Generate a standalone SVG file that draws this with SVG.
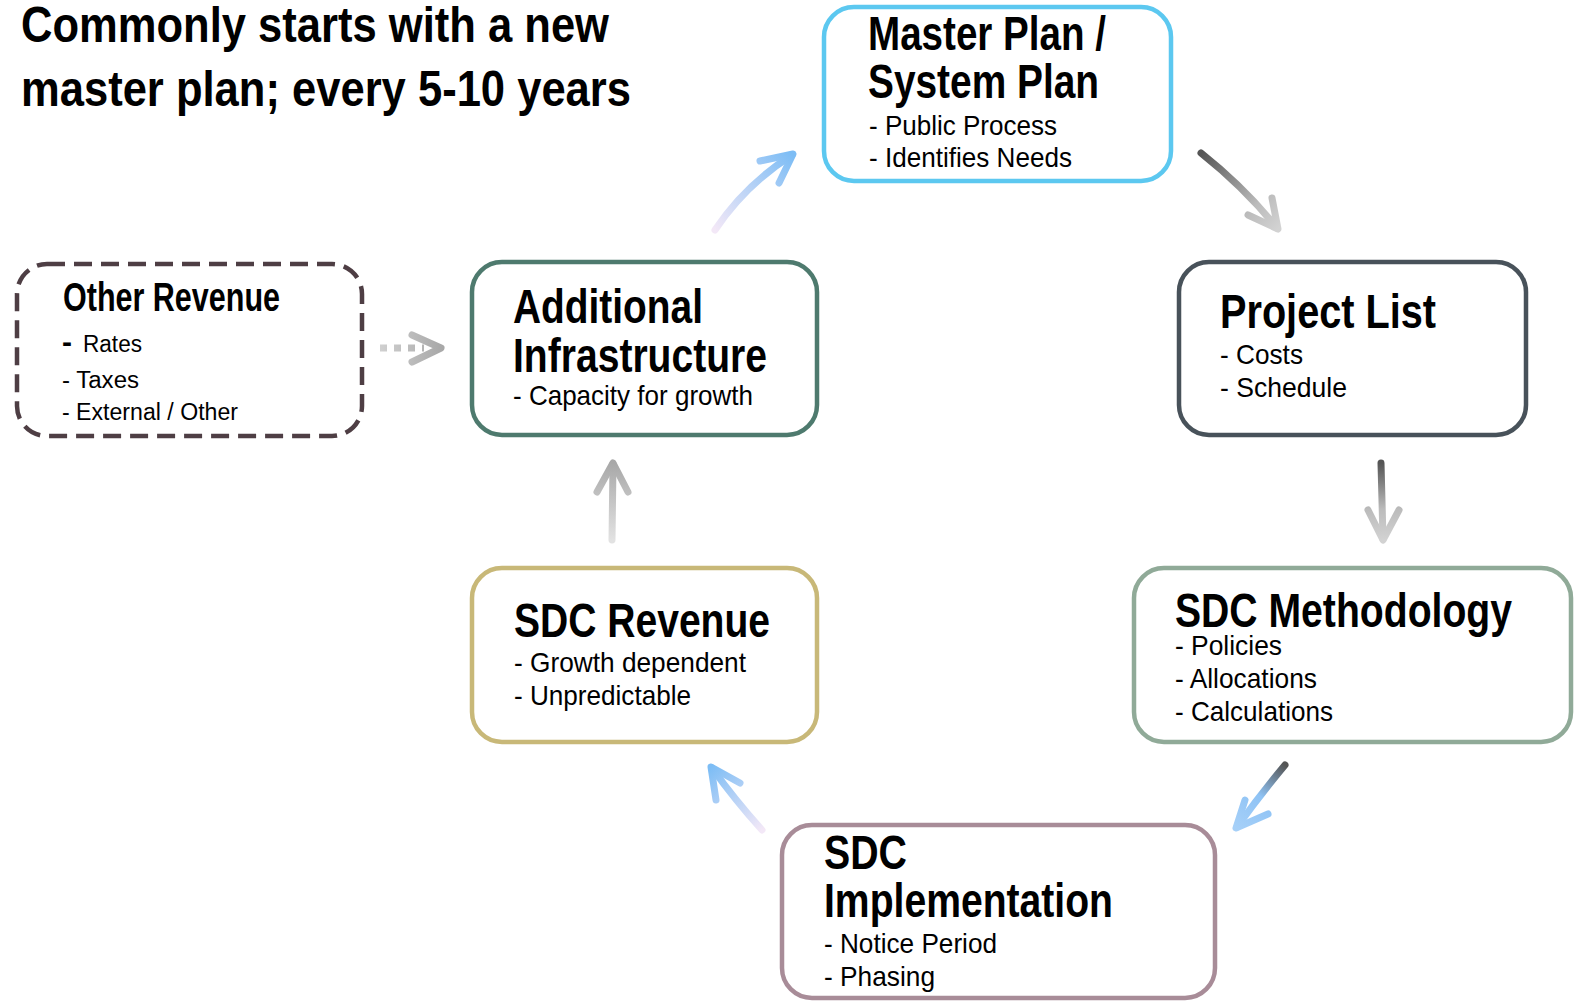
<svg xmlns="http://www.w3.org/2000/svg" width="1575" height="1008" viewBox="0 0 1575 1008">
<style>
text{font-family:"Liberation Sans Narrow","Liberation Sans",Arial,sans-serif;fill:#000}
.h{font-weight:bold;font-size:49px}
.s{font-size:28px}
.t{font-weight:bold;font-size:50px}
.box{fill:#fff;stroke-width:4.5}
.ar{fill:none;stroke-width:7;stroke-linecap:round;stroke-linejoin:round}
</style>
<defs>
<linearGradient id="g1" gradientUnits="userSpaceOnUse" x1="715" y1="230" x2="793" y2="155"><stop offset="0" stop-color="#F3E8F7"/><stop offset="1" stop-color="#7DBDF5"/></linearGradient>
<linearGradient id="g2" gradientUnits="userSpaceOnUse" x1="1202" y1="153" x2="1278" y2="228"><stop offset="0" stop-color="#555"/><stop offset="0.7" stop-color="#bbb"/><stop offset="1" stop-color="#d2d2d2"/></linearGradient>
<linearGradient id="g3" gradientUnits="userSpaceOnUse" x1="1382" y1="463" x2="1383" y2="540"><stop offset="0" stop-color="#555"/><stop offset="0.6" stop-color="#bbb"/><stop offset="1" stop-color="#d2d2d2"/></linearGradient>
<linearGradient id="g4" gradientUnits="userSpaceOnUse" x1="1285" y1="765" x2="1236" y2="828"><stop offset="0" stop-color="#555"/><stop offset="0.5" stop-color="#8FC3F5"/><stop offset="1" stop-color="#A6D0F8"/></linearGradient>
<linearGradient id="g5" gradientUnits="userSpaceOnUse" x1="762" y1="830" x2="711" y2="767"><stop offset="0" stop-color="#F3E8F7"/><stop offset="1" stop-color="#7DBDF5"/></linearGradient>
<linearGradient id="g6" gradientUnits="userSpaceOnUse" x1="612" y1="540" x2="613" y2="463"><stop offset="0" stop-color="#e2e2e2"/><stop offset="1" stop-color="#a8a8a8"/></linearGradient>
<linearGradient id="g7" gradientUnits="userSpaceOnUse" x1="380" y1="348" x2="442" y2="348"><stop offset="0" stop-color="#d0d0d0"/><stop offset="1" stop-color="#a8a8a8"/></linearGradient>
</defs>

<text class="t" x="21" y="42" textLength="588" lengthAdjust="spacingAndGlyphs">Commonly starts with a new</text>
<text class="t" x="21" y="106" textLength="610" lengthAdjust="spacingAndGlyphs">master plan; every 5-10 years</text>

<g id="connectors">
<g id="c1"><path class="ar" stroke="url(#g1)" d="M715,230 Q745,185 792,155"/><polyline class="ar" stroke="url(#g1)" points="760,161 793,154 779,183"/></g>
<g id="c2"><path class="ar" stroke="url(#g2)" d="M1201,153 Q1245,188 1277,228"/><polyline class="ar" stroke="url(#g2)" points="1248,215 1278,229 1272,198"/></g>
<g id="c3"><path class="ar" stroke="url(#g3)" d="M1381,463 L1383,539"/><polyline class="ar" stroke="url(#g3)" points="1368,510 1383,540 1399,510"/></g>
<g id="c4"><path class="ar" stroke="url(#g4)" d="M1285,765 Q1260,795 1237,827"/><polyline class="ar" stroke="url(#g4)" points="1245,800 1236,828 1268,814"/></g>
<g id="c5"><path class="ar" stroke="url(#g5)" d="M762,830 Q735,800 712,768"/><polyline class="ar" stroke="url(#g5)" points="716,800 711,767 740,783"/></g>
<g id="c6"><path class="ar" stroke="url(#g6)" d="M612,540 L613,464"/><polyline class="ar" stroke="url(#g6)" points="597,492 613,463 628,492"/></g>
<g id="c7"><path fill="none" stroke="url(#g7)" stroke-width="7" stroke-dasharray="7 7" d="M380,348 L424,348"/><polyline class="ar" stroke="url(#g7)" points="412,335 441,348 412,362"/></g>
</g>

<g id="master-plan">
<rect class="box" x="824" y="7" width="347" height="174" rx="30" stroke="#5CC8F0"/>
<text class="h" x="868" y="50" textLength="238" lengthAdjust="spacingAndGlyphs">Master Plan /</text>
<text class="h" x="868" y="98" textLength="231" lengthAdjust="spacingAndGlyphs">System Plan</text>
<text class="s" x="869" y="135" textLength="188" lengthAdjust="spacingAndGlyphs">- Public Process</text>
<text class="s" x="869" y="167" textLength="203" lengthAdjust="spacingAndGlyphs">- Identifies Needs</text>
</g>

<g id="project-list">
<rect class="box" x="1179" y="262" width="347" height="173" rx="30" stroke="#48525A"/>
<text class="h" x="1220" y="328" textLength="216" lengthAdjust="spacingAndGlyphs">Project List</text>
<text class="s" x="1220" y="364" textLength="83" lengthAdjust="spacingAndGlyphs">- Costs</text>
<text class="s" x="1220" y="397" textLength="127" lengthAdjust="spacingAndGlyphs">- Schedule</text>
</g>

<g id="sdc-methodology">
<rect class="box" x="1134" y="568" width="437" height="174" rx="30" stroke="#90AA98"/>
<text class="h" x="1175" y="627" textLength="337" lengthAdjust="spacingAndGlyphs">SDC Methodology</text>
<text class="s" x="1175" y="655" textLength="107" lengthAdjust="spacingAndGlyphs">- Policies</text>
<text class="s" x="1175" y="688" textLength="142" lengthAdjust="spacingAndGlyphs">- Allocations</text>
<text class="s" x="1175" y="721" textLength="158" lengthAdjust="spacingAndGlyphs">- Calculations</text>
</g>

<g id="sdc-implementation">
<rect class="box" x="782" y="825" width="433" height="173" rx="30" stroke="#A88C98"/>
<text class="h" x="824" y="869" textLength="83" lengthAdjust="spacingAndGlyphs">SDC</text>
<text class="h" x="824" y="917" textLength="289" lengthAdjust="spacingAndGlyphs">Implementation</text>
<text class="s" x="824" y="953" textLength="173" lengthAdjust="spacingAndGlyphs">- Notice Period</text>
<text class="s" x="824" y="986" textLength="111" lengthAdjust="spacingAndGlyphs">- Phasing</text>
</g>

<g id="sdc-revenue">
<rect class="box" x="472" y="568" width="345" height="174" rx="30" stroke="#C8B878"/>
<text class="h" x="514" y="637" textLength="256" lengthAdjust="spacingAndGlyphs">SDC Revenue</text>
<text class="s" x="514" y="672" textLength="232" lengthAdjust="spacingAndGlyphs">- Growth dependent</text>
<text class="s" x="514" y="705" textLength="177" lengthAdjust="spacingAndGlyphs">- Unpredictable</text>
</g>

<g id="additional-infrastructure">
<rect class="box" x="472" y="262" width="345" height="173" rx="30" stroke="#4E7A6E"/>
<text class="h" x="513" y="323" textLength="190" lengthAdjust="spacingAndGlyphs">Additional</text>
<text class="h" x="513" y="372" textLength="254" lengthAdjust="spacingAndGlyphs">Infrastructure</text>
<text class="s" x="513" y="405" textLength="240" lengthAdjust="spacingAndGlyphs">- Capacity for growth</text>
</g>

<g id="other-revenue">
<rect x="17" y="264" width="345" height="172" rx="30" fill="#fff" stroke="#4E3E44" stroke-width="4.5" stroke-dasharray="18 9"/>
<text x="63" y="311" font-weight="bold" font-size="40" textLength="217" lengthAdjust="spacingAndGlyphs">Other Revenue</text>
<text x="62" y="352" font-size="23"><tspan font-size="30" font-weight="bold">-</tspan><tspan x="83" textLength="59" lengthAdjust="spacingAndGlyphs">Rates</tspan></text>
<text x="62" y="388" font-size="23" textLength="77" lengthAdjust="spacingAndGlyphs">- Taxes</text>
<text x="62" y="420" font-size="23" textLength="176" lengthAdjust="spacingAndGlyphs">- External / Other</text>
</g>
</svg>
